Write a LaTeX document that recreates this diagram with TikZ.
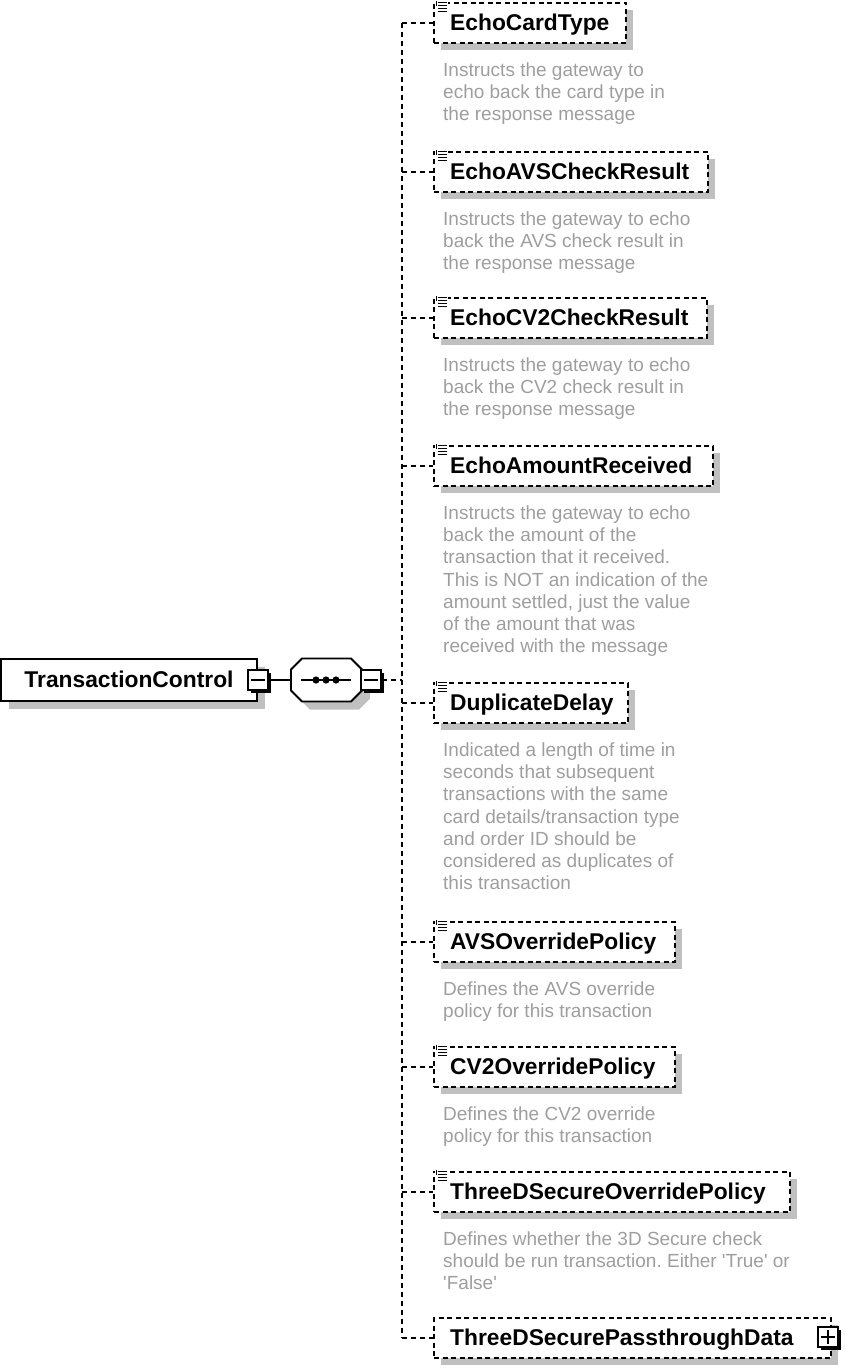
\documentclass[tikz,border=0pt]{standalone}
\usepackage{fontspec}
\setmainfont{Liberation Sans}
\usetikzlibrary{shadows,calc}
\frenchspacing
\definecolor{descgray}{RGB}{158,158,158}
\definecolor{shadowgray}{RGB}{192,192,192}
\tikzset{
  elem/.style={draw, line width=2.4pt, dash pattern=on 5pt off 3.5pt, fill=white,
    anchor=west, minimum height=40pt, inner xsep=16pt, inner ysep=0pt,
    text width=#1, align=left, text height=15pt, text depth=0pt,
    font=\fontsize{22.8}{27}\selectfont\bfseries,
    drop shadow={shadow xshift=7pt, shadow yshift=-7pt, fill=shadowgray, opacity=1}},
  tcbox/.style={draw, line width=2.2pt, fill=white, minimum width=256pt, minimum height=42pt,
    inner sep=0pt, text height=15pt, text depth=0pt,
    font=\fontsize{22.8}{27}\selectfont\bfseries,
    drop shadow={shadow xshift=8pt, shadow yshift=-8pt, fill=shadowgray, opacity=1}},
  pmbox/.style={draw, line width=1.8pt, fill=white, minimum size=20pt, inner sep=0pt,
    drop shadow={shadow xshift=2.5pt, shadow yshift=-2.5pt, fill=black, opacity=1}},
  pmline/.style={line width=1.5pt},
  desc/.style={anchor=north west, inner sep=0pt, align=left, text=descgray,
    font=\fontsize{19}{22.3}\selectfont\frenchspacing},
  conn/.style={line width=1.8pt, dash pattern=on 5pt off 4pt},
  solidconn/.style={line width=1.8pt},
  seqshape/.style={minimum width=71pt, minimum height=43pt, inner sep=0pt, outer sep=0pt},
  icon/.style={line width=1pt},
}
\begin{document}
\begin{tikzpicture}[x=1pt,y=-1pt]
\useasboundingbox (0,0) rectangle (845,1370);

% root element
\node[tcbox] (tc) at (129,680) {TransactionControl};
\node[pmbox] (tcm) at (258,680) {};
\draw[pmline] ([xshift=4pt]tcm.west) -- ([xshift=-4pt]tcm.east);

% sequence compositor
\node[seqshape] (seq) at (326.5,680) {};
\fill[shadowgray, transform canvas={shift={(8pt,-8pt)}}]
  ([xshift=11pt]seq.north west) -- ([xshift=-11pt]seq.north east) -- ([yshift=-11pt]seq.north east)
  -- ([yshift=11pt]seq.south east) -- ([xshift=-11pt]seq.south east) -- ([xshift=11pt]seq.south west)
  -- ([yshift=11pt]seq.south west) -- ([yshift=-11pt]seq.north west) -- cycle;
\draw[line width=1.8pt, fill=white]
  ([xshift=11pt]seq.north west) -- ([xshift=-11pt]seq.north east) -- ([yshift=-11pt]seq.north east)
  -- ([yshift=11pt]seq.south east) -- ([xshift=-11pt]seq.south east) -- ([xshift=11pt]seq.south west)
  -- ([yshift=11pt]seq.south west) -- ([yshift=-11pt]seq.north west) -- cycle;
\draw[line width=1.6pt] ([xshift=-25.5pt]seq.center) -- ([xshift=24.5pt]seq.center);
\foreach \dx in {-10.5,-0.5,9.5} \fill ([xshift=\dx pt]seq.center) circle (3.6pt);
\node[pmbox] (smm) at (371,680) {};
\draw[pmline] ([xshift=4pt]smm.west) -- ([xshift=-4pt]smm.east);

\draw[solidconn] (tcm.east) -- (seq.west);

% child elements
\node[elem=160pt] (e1) at (433,23) {EchoCardType};
\node[elem=242pt] (e2) at (433,172) {EchoAVSCheckResult};
\node[elem=241pt] (e3) at (433,318) {EchoCV2CheckResult};
\node[elem=247pt] (e4) at (433,466) {EchoAmountReceived};
\node[elem=162pt] (e5) at (433,703) {DuplicateDelay};
\node[elem=209pt] (e6) at (433,942) {AVSOverridePolicy};
\node[elem=209pt] (e7) at (433,1067) {CV2OverridePolicy};
\node[elem=324pt] (e8) at (433,1192) {ThreeDSecureOverridePolicy};
\node[elem=365pt] (e9) at (433,1338) {ThreeDSecurePassthroughData};
\node[pmbox] (e9p) at (828,1337) {};
\draw[pmline] ([xshift=4pt]e9p.west) -- ([xshift=-4pt]e9p.east);
\draw[pmline] ([yshift=-4pt]e9p.north) -- ([yshift=4pt]e9p.south);

% annotation icons
\foreach \n in {e1,e2,e3,e4,e5,e6,e7,e8} {
  \fill[white] ([xshift=2pt,yshift=1.5pt]\n.north west) rectangle ([xshift=15pt,yshift=-11pt]\n.north west);
  \foreach \dy in {-0.5,-3.5,-6.5,-9.5} \draw[icon] ([xshift=5pt,yshift=\dy pt]\n.north west) -- ([xshift=14pt,yshift=\dy pt]\n.north west);
  \draw[icon] ([xshift=3.5pt,yshift=0.5pt]\n.north west) -- ([xshift=3.5pt,yshift=-4pt]\n.north west);
}

% descriptions
\node[desc] (d1) at ([xshift=10pt,yshift=-18pt]e1.south west) {Instructs the gateway to\\echo back the card type in\\the response message};
\node[desc] (d2) at ([xshift=10pt,yshift=-18pt]e2.south west) {Instructs the gateway to echo\\back the AVS check result in\\the response message};
\node[desc] (d3) at ([xshift=10pt,yshift=-18pt]e3.south west) {Instructs the gateway to echo\\back the CV2 check result in\\the response message};
\node[desc] (d4) at ([xshift=10pt,yshift=-18pt]e4.south west) {Instructs the gateway to echo\\back the amount of the\\transaction that it received.\\This is NOT an indication of the\\amount settled, just the value\\of the amount that was\\received with the message};
\node[desc] (d5) at ([xshift=10pt,yshift=-18pt]e5.south west) {Indicated a length of time in\\seconds that subsequent\\transactions with the same\\card details/transaction type\\and order ID should be\\considered as duplicates of\\this transaction};
\node[desc] (d6) at ([xshift=10pt,yshift=-18pt]e6.south west) {Defines the AVS override\\policy for this transaction};
\node[desc] (d7) at ([xshift=10pt,yshift=-18pt]e7.south west) {Defines the CV2 override\\policy for this transaction};
\node[desc] (d8) at ([xshift=10pt,yshift=-18pt]e8.south west) {Defines whether the 3D Secure check\\should be run transaction. Either \textquotesingle True\textquotesingle{} or\\\textquotesingle False\textquotesingle};

% connectors
\coordinate (bus) at (402,680);
\draw[conn] (smm.east) -- (bus);
\draw[conn] (bus |- e1.west) -- (bus |- e9.west);
\foreach \n in {e1,e2,e3,e4,e5,e6,e7,e8,e9} \draw[conn] (bus |- \n.west) -- (\n.west);
\end{tikzpicture}
\end{document}
